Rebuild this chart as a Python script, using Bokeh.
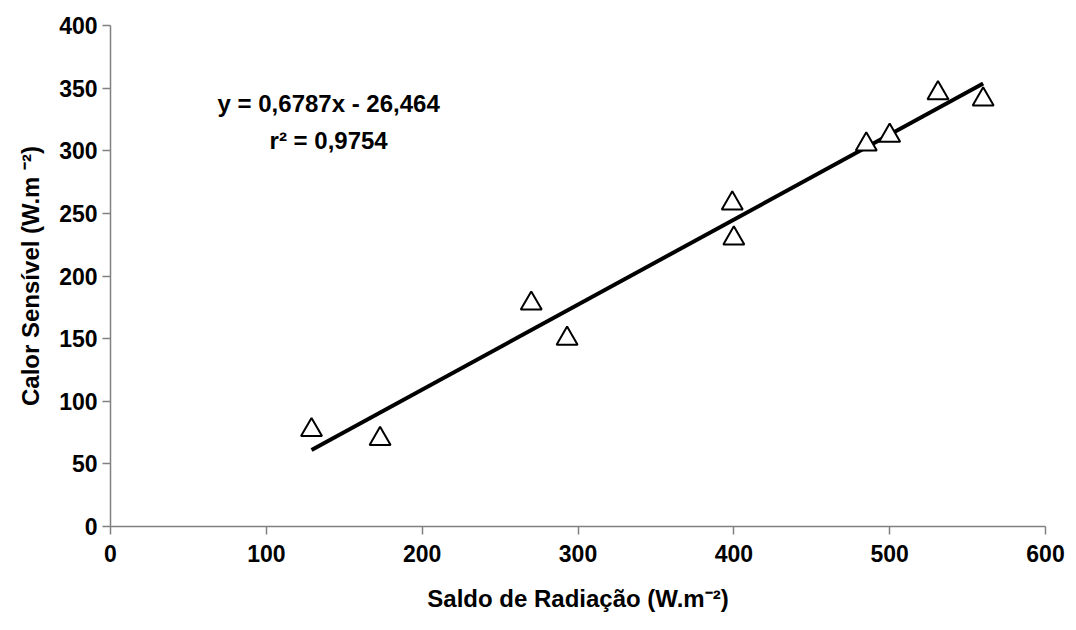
from bokeh.plotting import figure
from bokeh.models import Range1d, FixedTicker, Label
from bokeh.embed import file_html
from bokeh.resources import INLINE

# Data
saldo_radiacao = [129, 173, 270, 293, 399, 400, 485, 500, 531, 560]
calor_sensivel = [77, 70, 178, 150, 258, 230, 305, 312, 346, 341]
slope = 0.6787
intercept = -26.464
equation_text = "y = 0,6787x - 26,464"
r2_text = "r² = 0,9754"
x_ticks = [0, 100, 200, 300, 400, 500, 600]
y_ticks = [0, 50, 100, 150, 200, 250, 300, 350, 400]

FONT = "Liberation Sans"

p = figure(width=1076, height=630, output_backend="svg", toolbar_location=None,
           x_range=Range1d(0, 600), y_range=Range1d(0, 400),
           min_border_left=110, min_border_right=31, min_border_top=25,
           min_border_bottom=104)
p.grid.visible = False
p.outline_line_color = None
p.background_fill_color = "white"
p.border_fill_color = "white"

for ax, ticks in ((p.xaxis[0], x_ticks), (p.yaxis[0], y_ticks)):
    ax.ticker = FixedTicker(ticks=ticks)
    ax.minor_tick_line_color = None
    ax.axis_line_color = "#808080"
    ax.axis_line_width = 1.5
    ax.major_tick_line_color = "#808080"
    ax.major_tick_line_width = 1.5
    ax.major_tick_in = 0
    ax.major_tick_out = 8
    ax.major_label_text_font = FONT
    ax.major_label_text_font_style = "bold"
    ax.major_label_text_font_size = "23px"
    ax.major_label_text_color = "black"
    ax.axis_label_text_font = FONT
    ax.axis_label_text_font_style = "bold"
    ax.axis_label_text_font_size = "24px"
    ax.axis_label_text_color = "black"

p.xaxis.axis_label = "Saldo de Radiação (W.m⁻²)"
p.yaxis.axis_label = "Calor Sensível (W.m ⁻²)"
p.xaxis.major_label_standoff = 10
p.xaxis.axis_label_standoff = 20
p.yaxis.major_label_standoff = 5
p.yaxis.axis_label_standoff = 12

# trend line
x0, x1 = min(saldo_radiacao), max(saldo_radiacao)
p.line([x0, x1], [slope * x0 + intercept, slope * x1 + intercept],
       line_color="black", line_width=4)

# data points
p.scatter(saldo_radiacao, calor_sensivel, marker="triangle", size=21,
          fill_color="white", line_color="black", line_width=2)

p.add_layout(Label(x=140, y=338, text=equation_text, text_align="center",
                   text_baseline="middle", text_font=FONT, text_color="black",
                   text_font_style="bold", text_font_size="24px"))
p.add_layout(Label(x=140, y=308, text=r2_text, text_align="center",
                   text_baseline="middle", text_font=FONT, text_color="black",
                   text_font_style="bold", text_font_size="24px"))

open("out.html", "w").write(file_html(p, INLINE))
